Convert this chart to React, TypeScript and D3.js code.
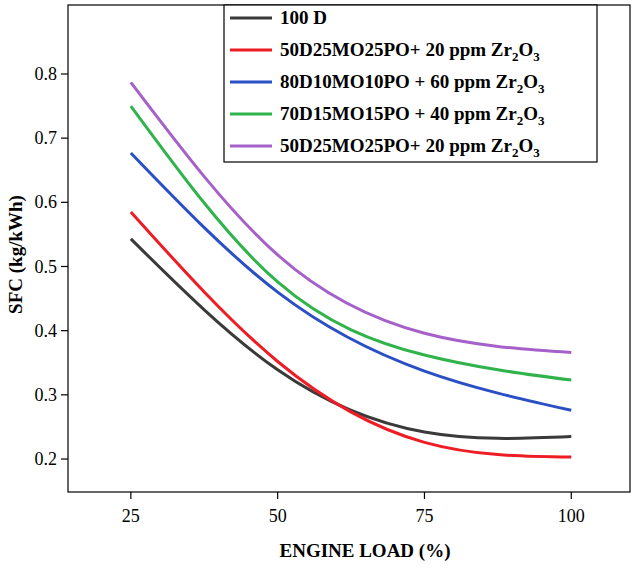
import * as d3 from "d3";

const loads = [25, 50, 75, 100];
const sfc100D = [0.543, 0.339, 0.242, 0.235];
const sfcRed = [0.585, 0.352, 0.226, 0.203];
const sfcBlue = [0.677, 0.46, 0.337, 0.276];
const sfcGreen = [0.75, 0.476, 0.362, 0.323];
const sfcPurple = [0.787, 0.518, 0.396, 0.366];
const xTicks = [25, 50, 75, 100];
const yTicks = [0.2, 0.3, 0.4, 0.5, 0.6, 0.7, 0.8];

const series = [
  { name: "100 D", sub: "", values: sfc100D, color: "#3a3a3a" },
  { name: "50D25MO25PO+ 20 ppm Zr", sub: "2", tail: "O", sub2: "3", values: sfcRed, color: "#ee1c25" },
  { name: "80D10MO10PO + 60 ppm Zr", sub: "2", tail: "O", sub2: "3", values: sfcBlue, color: "#2b4fc4" },
  { name: "70D15MO15PO + 40 ppm Zr", sub: "2", tail: "O", sub2: "3", values: sfcGreen, color: "#30b34a" },
  { name: "50D25MO25PO+ 20 ppm Zr", sub: "2", tail: "O", sub2: "3", values: sfcPurple, color: "#a561c9" },
];

const W = 640, H = 570;
const L = 68, R = 630, T = 5, B = 492;
const font = "'Liberation Serif', 'Times New Roman', serif";

export default function App() {
  const x = d3.scaleLinear().domain([14.3, 110]).range([L, R]);
  const y = d3.scaleLinear().domain([0.1486, 0.9075]).range([B, T]);
  const line = d3
    .line<[number, number]>()
    .x((d) => x(d[0]))
    .y((d) => y(d[1]))
    .curve(d3.curveNatural);
  return (
    <svg width={W} height={H} style={{ position: "absolute", left: 0, top: 0, background: "#fff" }} fontFamily={font}>
      {series.map((s, i) => (
        <path key={i} d={line(loads.map((l, j) => [l, s.values[j]] as [number, number])) ?? ""} fill="none" stroke={s.color} strokeWidth={3} />
      ))}
      <rect x={L} y={T} width={R - L} height={B - T} fill="none" stroke="#000" strokeWidth={1.2} />
      {xTicks.map((t) => (
        <g key={t}>
          <line x1={x(t)} x2={x(t)} y1={B} y2={B + 7} stroke="#000" strokeWidth={1.2} />
          <text x={x(t)} y={B + 30} textAnchor="middle" fontSize={18}>{t}</text>
        </g>
      ))}
      {yTicks.map((t) => (
        <g key={t}>
          <line x1={L - 7} x2={L} y1={y(t)} y2={y(t)} stroke="#000" strokeWidth={1.2} />
          <text x={L - 11} y={y(t) + 6} textAnchor="end" fontSize={18}>{t.toFixed(1)}</text>
        </g>
      ))}
      <text x={(L + R) / 2 + 16} y={557} textAnchor="middle" fontSize={19} fontWeight="bold">ENGINE LOAD (%)</text>
      <text transform={`translate(22,${(T + B) / 2 + 6}) rotate(-90)`} textAnchor="middle" fontSize={19} fontWeight="bold">SFC (kg/kWh)</text>
      <rect x={224} y={5} width={373} height={157} fill="#fff" stroke="#000" strokeWidth={1.2} />
      {series.map((s, i) => {
        const ly = 18 + i * 32;
        return (
          <g key={i}>
            <line x1={230} x2={272} y1={ly} y2={ly} stroke={s.color} strokeWidth={3} />
            <text x={280} y={ly + 6} fontSize={19} fontWeight="bold">
              {s.name}
              {s.sub && <tspan dy={5} fontSize={13}>{s.sub}</tspan>}
              {s.tail && <tspan dy={-5}>{s.tail}</tspan>}
              {s.sub2 && <tspan dy={5} fontSize={13}>{s.sub2}</tspan>}
            </text>
          </g>
        );
      })}
    </svg>
  );
}
